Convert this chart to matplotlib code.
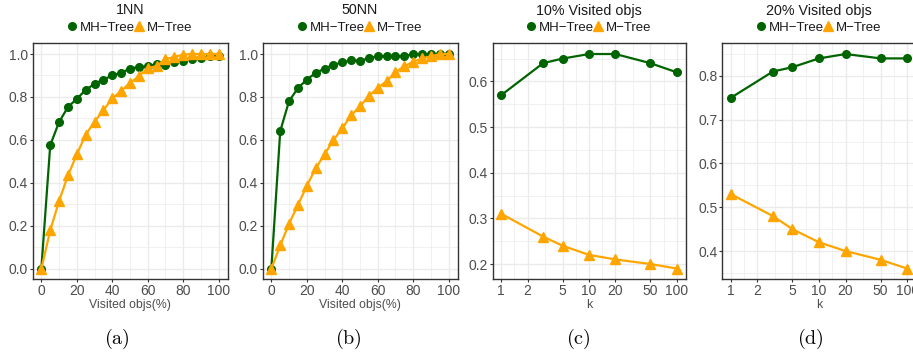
import numpy as np
import matplotlib
matplotlib.use("Agg")
import matplotlib.pyplot as plt
from matplotlib.lines import Line2D
from matplotlib.ticker import FixedLocator, NullFormatter

plt.rcParams['font.family'] = ['Liberation Sans', 'DejaVu Sans']
plt.rcParams['mathtext.fontset'] = 'cm'

# ---------------- data ----------------
visited = list(range(0, 105, 5))
nn1_mh = [0.0, 0.575, 0.683, 0.753, 0.791, 0.833, 0.861, 0.881, 0.90, 0.912, 0.932,
          0.94, 0.943, 0.954, 0.949, 0.961, 0.969, 0.978, 0.981, 0.989, 0.989]
nn1_m = [0.0, 0.178, 0.315, 0.434, 0.532, 0.624, 0.685, 0.737, 0.794, 0.827, 0.866,
         0.896, 0.935, 0.943, 0.977, 0.986, 0.997, 1.0, 1.0, 1.0, 1.0]
nn50_mh = [0.0, 0.641, 0.781, 0.841, 0.881, 0.912, 0.932, 0.95, 0.961, 0.97, 0.969,
           0.98, 0.99, 0.99, 0.99, 0.99, 1.0, 1.0, 1.0, 1.0, 1.0]
nn50_m = [0.0, 0.108, 0.209, 0.297, 0.386, 0.467, 0.533, 0.598, 0.654, 0.714, 0.757,
          0.804, 0.842, 0.873, 0.915, 0.943, 0.964, 0.98, 0.989, 1.0, 1.0]
k_values = [1, 3, 5, 10, 20, 50, 100]
v10_mh = [0.57, 0.64, 0.65, 0.66, 0.66, 0.64, 0.62]
v10_m = [0.31, 0.26, 0.24, 0.22, 0.21, 0.20, 0.19]
v20_mh = [0.75, 0.81, 0.82, 0.84, 0.85, 0.84, 0.84]
v20_m = [0.53, 0.48, 0.45, 0.42, 0.40, 0.38, 0.36]

titles = ["1NN", "50NN", "10% Visited objs", "20% Visited objs"]
sublabels = ["(a)", "(b)", "(c)", "(d)"]
series_names = ["MH\u2212Tree", "M\u2212Tree"]
xlabels = ["Visited objs(%)", "Visited objs(%)", "k", "k"]
k_ticks = [1, 2, 5, 10, 20, 50, 100]

GREEN = "#006400"
ORANGE = "#FFA500"
GRID = "#EBEBEB"
FRAME = "#333333"
TXT = "#4D4D4D"

W, H = 913, 360
fig = plt.figure(figsize=(W / 100, H / 100), dpi=100)

lefts = [32.5, 262.5, 492.5, 722]
widths = [195, 195, 193, 194]
top_px, bot_px = 43.3, 279.3

panels = [
    (visited, nn1_mh, nn1_m, False),
    (visited, nn50_mh, nn50_m, False),
    (k_values, v10_mh, v10_m, True),
    (k_values, v20_mh, v20_m, True),
]
sub_x = [117, 348, 578, 810]

for i, (xs, mh, m, logx) in enumerate(panels):
    ax = fig.add_axes([lefts[i] / W, 1 - bot_px / H, widths[i] / W, (bot_px - top_px) / H])
    ax.plot(xs, mh, color=GREEN, lw=1.6, marker='o', ms=5.5, zorder=3)
    ax.plot(xs, m, color=ORANGE, lw=1.6, marker='^', ms=7, zorder=3)
    if logx:
        ax.set_xscale('log')
        ax.set_xlim(10 ** -0.1, 10 ** 2.1)
        ax.xaxis.set_major_locator(FixedLocator(k_ticks))
        ax.set_xticklabels([str(t) for t in k_ticks])
        lt = np.log10(k_ticks)
        minors = [10 ** ((lt[j] + lt[j + 1]) / 2) for j in range(len(lt) - 1)]
        ax.xaxis.set_minor_locator(FixedLocator(minors))
        ax.xaxis.set_minor_formatter(NullFormatter())
        ally = mh + m
        lo, hi = min(ally), max(ally)
        pad = (hi - lo) * 0.05
        ax.set_ylim(lo - pad, hi + pad)
        yt = np.round(np.arange(0.1, 1.0, 0.1), 2)
        yt = [t for t in yt if lo - pad <= t <= hi + pad]
        ax.yaxis.set_major_locator(FixedLocator(yt))
        ax.set_yticklabels([f"{t:.1f}" for t in yt])
        ym = [t + 0.05 for t in np.arange(0.0, 1.0, 0.1)]
        ax.yaxis.set_minor_locator(FixedLocator([t for t in ym if lo - pad <= t <= hi + pad]))
    else:
        ax.set_xlim(-5, 105)
        ax.set_ylim(-0.05, 1.05)
        ax.xaxis.set_major_locator(FixedLocator([0, 20, 40, 60, 80, 100]))
        ax.xaxis.set_minor_locator(FixedLocator([10, 30, 50, 70, 90]))
        ax.yaxis.set_major_locator(FixedLocator([0, 0.2, 0.4, 0.6, 0.8, 1.0]))
        ax.set_yticklabels(["0.0", "0.2", "0.4", "0.6", "0.8", "1.0"])
        ax.yaxis.set_minor_locator(FixedLocator([0.1, 0.3, 0.5, 0.7, 0.9]))
    ax.grid(True, which='major', color=GRID, lw=1.0, zorder=0)
    ax.grid(True, which='minor', color=GRID, lw=0.5, zorder=0)
    ax.set_axisbelow(True)
    for s in ax.spines.values():
        s.set_color(FRAME)
        s.set_linewidth(1.0)
    ax.tick_params(which='major', length=2.2, width=0.8, color=FRAME, labelcolor=TXT,
                   labelsize=10, pad=1)
    ax.tick_params(which='minor', length=0)
    ax.set_xlabel(xlabels[i], fontsize=8.8, color=TXT, labelpad=1)

    cx = (lefts[i] + widths[i] / 2) / W
    fig.text(cx, 1 - 10.5 / H, titles[i], ha='center', va='center', fontsize=10.3, color="#1a1a1a")
    handles = [Line2D([], [], ls='none', marker='o', color=GREEN, ms=5.5),
               Line2D([], [], ls='none', marker='^', color=ORANGE, ms=7)]
    fig.legend(handles, series_names, loc='center', bbox_to_anchor=(cx, 1 - 28 / H),
               ncol=2, frameon=False, fontsize=9.5, handlelength=0.7, handletextpad=0.25,
               columnspacing=0.0, borderpad=0, labelcolor="#1a1a1a")
    fig.text(sub_x[i] / W, 1 - 339 / H, r"$\mathrm{" + sublabels[i] + "}$",
             ha='center', va='center', fontsize=14.5)

fig.savefig("out.png", dpi=100)
